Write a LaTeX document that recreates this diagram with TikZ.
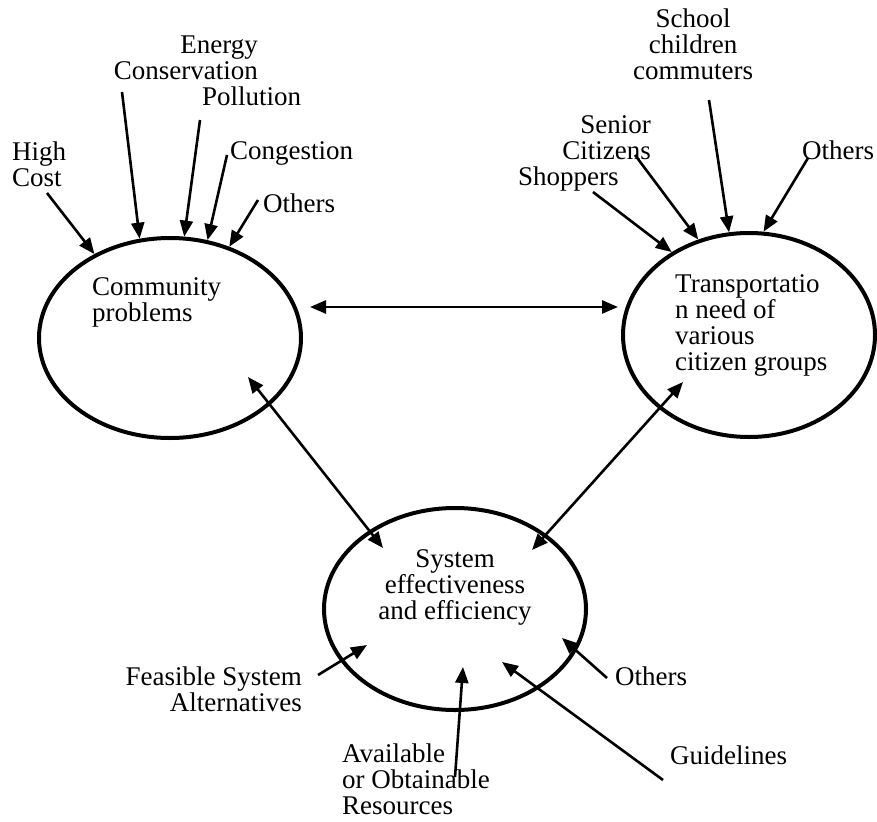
\documentclass[tikz,border=0pt]{standalone}
\usepackage{fontspec}
\setmainfont{Liberation Serif}
\usetikzlibrary{shapes.geometric,arrows.meta}
\begin{document}
\begin{tikzpicture}[x=1pt,y=-1pt,
  lbl/.style={inner sep=0pt, font=\fontsize{27pt}{26pt}\selectfont},
  oval/.style={ellipse, draw, line width=4pt, inner sep=0pt},
  arr/.style={line width=2.6pt, -{Triangle[length=16pt,width=13pt]}},
  dblarr/.style={line width=2.6pt, {Triangle[length=16pt,width=13pt]}-{Triangle[length=16pt,width=13pt]}}]
\useasboundingbox (0,0) rectangle (877,821);

% ellipses
\node[oval, minimum width=262pt, minimum height=200pt] (cp) at (170,338) {};
\node[oval, minimum width=252pt, minimum height=204pt] (tn) at (749,335) {};
\node[oval, minimum width=262pt, minimum height=202pt] (se) at (455,609) {};

% ellipse texts
\node[lbl, anchor=north west, align=left] (cpt) at (92,277) {Community\\problems};
\node[lbl, anchor=north west, align=left] (tnt) at (675,274) {Transportatio\\n need of\\various\\citizen groups};
\node[lbl, anchor=north, align=center] (set) at (455,549) {System\\effectiveness\\and efficiency};

% labels top-left
\node[lbl, anchor=north west, align=left] (hc) at (12,142) {High\\Cost};
\node[lbl, anchor=north east, align=right] (en) at (258,36) {Energy\\Conservation};
\node[lbl, anchor=north west] (po) at (202,87) {Pollution};
\node[lbl, anchor=north west] (co) at (230,141) {Congestion};
\node[lbl, anchor=north west] (ol) at (263,194) {Others};

% labels top-right
\node[lbl, anchor=north, align=center] (sch) at (693,9) {School\\children\\commuters};
\node[lbl, anchor=north east, align=right] (sc) at (651,115) {Senior\\Citizens};
\node[lbl, anchor=north west] (sh) at (518,167) {Shoppers};
\node[lbl, anchor=north west] (orr) at (802,141) {Others};

% labels bottom
\node[lbl, anchor=north east, align=right] (fs) at (302,667) {Feasible System\\Alternatives};
\node[lbl, anchor=north west, align=left] (av) at (342,744) {Available\\or Obtainable\\Resources};
\node[lbl, anchor=north west] (gl) at (670,746) {Guidelines};
\node[lbl, anchor=north west] (ob) at (615,667) {Others};

% arrow end coordinates
\coordinate (hcA) at (47,193);
\coordinate (enA) at (122,92);
\coordinate (poA) at (200,120);
\coordinate (coA) at (227,155);
\coordinate (olA) at (258,200);
\coordinate (shA) at (593,192);
\coordinate (scA) at (635,155);
\coordinate (schA) at (709,100);
\coordinate (orA) at (808,158);
\coordinate (fsA) at (318,675);
\coordinate (fsB) at (367,645);
\coordinate (avA) at (455,777);
\coordinate (avB) at (463,667);
\coordinate (glA) at (663,780);
\coordinate (glB) at (502,662);
\coordinate (obA) at (607,678);
\coordinate (obB) at (562,638);
\coordinate (h1) at (310,307);
\coordinate (h2) at (618,307);
\coordinate (c1) at (248,377);
\coordinate (c2) at (383,548);
\coordinate (t1) at (683,382);
\coordinate (t2) at (532,550);

% arrows into community problems
\draw[arr] (hcA) -- (cp.132);
\draw[arr] (enA) -- (cp.107);
\draw[arr] (poA) -- (cp.82);
\draw[arr] (coA) -- (cp.69);
\draw[arr] (olA) -- (cp.57);

% arrows into transportation needs
\draw[arr] (shA) -- (tn.133);
\draw[arr] (scA) -- (tn.118);
\draw[arr] (schA) -- (tn.101);
\draw[arr] (orA) -- (tn.82);

% arrows into system
\draw[arr] (fsA) -- (fsB);
\draw[arr] (avA) -- (avB);
\draw[arr] (glA) -- (glB);
\draw[arr] (obA) -- (obB);

% double arrows
\draw[dblarr] (h1) -- (h2);
\draw[dblarr] (c1) -- (c2);
\draw[dblarr] (t1) -- (t2);
\end{tikzpicture}
\end{document}
